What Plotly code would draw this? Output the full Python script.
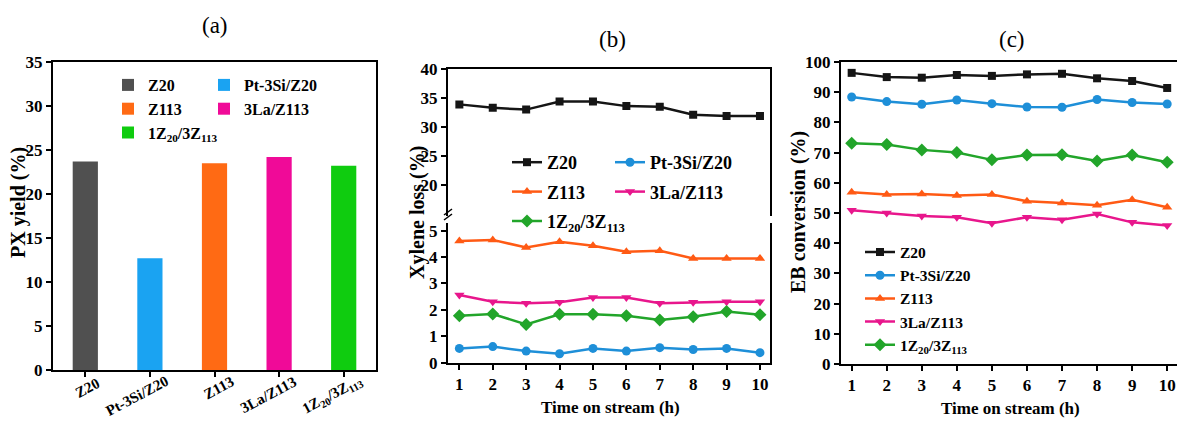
import plotly.graph_objects as go

W, H = 1177, 422

def px(x):
    return x / W

def py(y):
    return 1 - y / H

# ---------------- data ----------------
categories = ["Z20", "Pt-3Si/Z20", "Z113", "3La/Z113", "1Z<sub>20</sub>/3Z<sub>113</sub>"]
px_yield = [23.7, 12.7, 23.5, 24.2, 23.2]

hours = [1, 2, 3, 4, 5, 6, 7, 8, 9, 10]

xyl_Z20 = [33.9, 33.3, 33.0, 34.4, 34.4, 33.6, 33.5, 32.1, 31.9, 31.9]
xyl_Pt = [0.54, 0.61, 0.44, 0.34, 0.54, 0.44, 0.57, 0.50, 0.54, 0.38]
xyl_Z113 = [4.61, 4.65, 4.36, 4.58, 4.43, 4.20, 4.24, 3.95, 3.95, 3.95]
xyl_La = [2.56, 2.31, 2.25, 2.29, 2.47, 2.47, 2.25, 2.29, 2.31, 2.31]
xyl_Mix = [1.78, 1.84, 1.45, 1.83, 1.83, 1.78, 1.62, 1.74, 1.94, 1.82]

eb_Z20 = [96.4, 95.0, 94.8, 95.7, 95.4, 95.9, 96.1, 94.6, 93.7, 91.4]
eb_Pt = [88.4, 86.9, 86.0, 87.4, 86.2, 85.1, 85.0, 87.6, 86.6, 86.1]
eb_Z113 = [56.9, 56.1, 56.3, 55.8, 56.1, 53.9, 53.3, 52.6, 54.4, 51.9]
eb_La = [50.9, 50.0, 49.0, 48.6, 46.6, 48.6, 47.8, 49.7, 46.9, 45.9]
eb_Mix = [73.1, 72.7, 70.9, 70.0, 67.6, 69.2, 69.3, 67.2, 69.2, 66.8]

series_names = ["Z20", "Pt-3Si/Z20", "Z113", "3La/Z113", "1Z<sub>20</sub>/3Z<sub>113</sub>"]
bar_colors = ["#505050", "#1AA3F2", "#FF6A14", "#F00A98", "#0FCC0F"]
line_colors = ["#151515", "#1E8FD8", "#FF5A14", "#E8168C", "#22A52A"]
symbols = ["square", "circle", "triangle-up", "triangle-down", "diamond"]

SERIF = "Liberation Serif"

fig = go.Figure()

# ---------------- panel (a) ----------------
bar_legends = ["legend", "legend2", "legend", "legend2", "legend"]
for i, name in enumerate(series_names):
    fig.add_trace(go.Bar(
        x=[categories[i]], y=[px_yield[i]], name=name,
        marker=dict(color=bar_colors[i], line=dict(width=0)),
        width=0.39, xaxis="x", yaxis="y",
        legend=bar_legends[i],
    ))

# ---------------- panel (b) ----------------
xyl_sets = [xyl_Z20, xyl_Pt, xyl_Z113, xyl_La, xyl_Mix]
b_legends = ["legend3", "legend4", "legend3", "legend4", "legend3"]
msize = [8, 9, 9, 9, 10]
for i, name in enumerate(series_names):
    on_upper = i == 0
    fig.add_trace(go.Scatter(
        x=hours, y=xyl_sets[i], name=name, mode="lines+markers",
        line=dict(color=line_colors[i], width=2.5),
        marker=dict(symbol=symbols[i], size=msize[i], color=line_colors[i]),
        xaxis="x2" if on_upper else "x3", yaxis="y2" if on_upper else "y3",
        legend=b_legends[i], legendgroup="b%d" % i,
    ))

# ---------------- panel (c) ----------------
eb_sets = [eb_Z20, eb_Pt, eb_Z113, eb_La, eb_Mix]
for i, name in enumerate(series_names):
    fig.add_trace(go.Scatter(
        x=hours, y=eb_sets[i], name=name, mode="lines+markers",
        line=dict(color=line_colors[i], width=2.5),
        marker=dict(symbol=symbols[i], size=msize[i], color=line_colors[i]),
        xaxis="x4", yaxis="y4", legend="legend5",
    ))

tickfont = dict(family=SERIF, size=17, color="black", weight="bold")
axis_common = dict(showline=True, linecolor="black", linewidth=2, ticks="outside",
                   ticklen=5, tickwidth=2, tickcolor="black", showgrid=False,
                   zeroline=False, tickfont=tickfont, automargin=False)

legend_common = dict(bgcolor="rgba(0,0,0,0)", borderwidth=0, xanchor="left",
                     yanchor="top", orientation="v")

fig.update_layout(
    width=W, height=H, margin=dict(l=0, r=0, t=0, b=0, autoexpand=False),
    paper_bgcolor="white", plot_bgcolor="white",
    font=dict(family=SERIF, color="black"),
    barmode="overlay", showlegend=True,
    xaxis=dict(domain=[px(53), px(376)], anchor="y", range=[-0.5, 4.5], mirror=True,
               showticklabels=False, **axis_common),
    yaxis=dict(domain=[py(370), py(62)], anchor="x", range=[0, 35], dtick=5, mirror=True,
               **axis_common),
    xaxis2=dict(domain=[px(448), px(770)], anchor="y2", range=[0.66, 10.3], side="top",
                showline=True, linecolor="black", linewidth=2, showticklabels=False,
                ticks="", showgrid=False, zeroline=False, matches="x3", automargin=False),
    yaxis2=dict(domain=[py(215.5), py(69)], anchor="x2", range=[14.74, 40],
                tickvals=[20, 25, 30, 35, 40], mirror=True, **axis_common),
    xaxis3=dict(domain=[px(448), px(770)], anchor="y3", range=[0.66, 10.3], dtick=1,
                **axis_common),
    yaxis3=dict(domain=[py(362.7), py(223)], anchor="x3", range=[0, 5.29],
                tickvals=[0, 1, 2, 3, 4, 5], mirror=True, **axis_common),
    xaxis4=dict(domain=[px(841), 1.0], anchor="y4", range=[0.6955, 10.28], dtick=1,
                mirror=True, **axis_common),
    yaxis4=dict(domain=[py(364), py(62)], anchor="x4", range=[0, 100], dtick=10,
                mirror=True, **axis_common),
    legend=dict(x=px(108), y=py(68),
                font=dict(family=SERIF, size=16, color="black", weight="bold"),
                **legend_common),
    legend2=dict(x=px(204), y=py(68),
                 font=dict(family=SERIF, size=16, color="black", weight="bold"),
                 **legend_common),
    legend3=dict(x=px(507), y=py(144), tracegroupgap=3,
                 font=dict(family=SERIF, size=18, color="black", weight="bold"),
                 **legend_common),
    legend4=dict(x=px(610), y=py(144), tracegroupgap=3,
                 font=dict(family=SERIF, size=18, color="black", weight="bold"),
                 **legend_common),
    legend5=dict(x=px(860), y=py(235.5),
                 font=dict(family=SERIF, size=15.5, color="black", weight="bold"),
                 **legend_common),
)

# axis break marks for panel (b)
for yy in (212, 217):
    fig.add_shape(type="line", xref="paper", yref="paper",
                  x0=px(444), x1=px(452), y0=py(yy + 3), y1=py(yy - 3),
                  line=dict(color="black", width=1.5))

# rotated category labels of panel (a)
cat_label_shift = [2, -13, 4, -11, -11]
cat_label_y = [388, 396, 388, 395, 395]
for i, cat in enumerate(categories):
    fig.add_annotation(xref="x", yref="paper", x=cat, y=py(cat_label_y[i]),
                       xshift=cat_label_shift[i], text=cat, textangle=-28,
                       showarrow=False, xanchor="center", yanchor="middle",
                       font=dict(family=SERIF, size=15, color="black", weight="bold"))

title_font = dict(family=SERIF, size=23, color="black")
label_font = dict(family=SERIF, size=17, color="black", weight="bold")
vlabel_font = dict(family=SERIF, size=20, color="black", weight="bold")
annotations = [
    dict(text="(a)", x=px(215), y=py(25), font=title_font),
    dict(text="(b)", x=px(612), y=py(40), font=title_font),
    dict(text="(c)", x=px(1012), y=py(40), font=title_font),
    dict(text="PX yield (%)", x=px(18), y=py(203), textangle=-90, font=vlabel_font),
    dict(text="Xylene loss (%)", x=px(417), y=py(213), textangle=-90, font=vlabel_font),
    dict(text="EB conversion (%)", x=px(798), y=py(212), textangle=-90, font=vlabel_font),
    dict(text="Time on stream (h)", x=px(610), y=py(407), font=label_font),
    dict(text="Time on stream (h)", x=px(1010), y=py(408), font=label_font),
]
for a in annotations:
    fig.add_annotation(xref="paper", yref="paper", showarrow=False,
                       xanchor="center", yanchor="middle", **a)

fig.write_html("out.html")
